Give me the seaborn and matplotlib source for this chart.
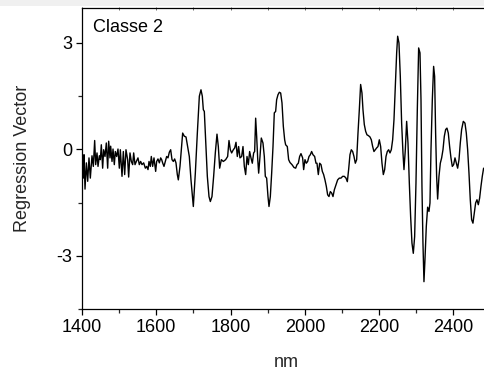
import matplotlib
matplotlib.use("Agg")
import matplotlib.pyplot as plt
from matplotlib.patches import Rectangle
from matplotlib.ticker import MultipleLocator
import seaborn as sns
import pandas as pd

# Regression vector for class 2 across the NIR range (nm)
wavelength_nm = [
    1400.0, 1403.6, 1405.4, 1408.1, 1411.7, 1415.3, 1418.8, 1422.4, 1426.9, 1430.5,
    1434.1, 1436.8, 1440.4, 1443.1, 1446.7, 1449.4, 1452.0, 1455.6, 1458.3, 1461.9,
    1465.5, 1469.1, 1471.8, 1475.4, 1477.2, 1480.8, 1483.5, 1487.0, 1489.7, 1493.3,
    1496.9, 1500.5, 1503.2, 1507.7, 1511.3, 1514.9, 1518.4, 1522.9, 1525.6, 1529.2,
    1532.8, 1536.4, 1539.1, 1542.7, 1546.3, 1550.7, 1554.3, 1557.9, 1561.5, 1566.0,
    1570.5, 1574.1, 1577.7, 1580.4, 1583.9, 1586.6, 1590.2, 1593.8, 1598.3, 1601.0,
    1604.6, 1608.2, 1611.8, 1614.5, 1617.1, 1620.7, 1624.3, 1627.9, 1631.5, 1635.1,
    1638.7, 1642.3, 1645.9, 1649.4, 1653.0, 1656.6, 1659.3, 1663.8,
    1671.0, 1675.5, 1680.0, 1684.4, 1688.9, 1693.4, 1699.7, 1705.1, 1710.5, 1715.9,
    1720.3, 1723.9, 1726.6, 1729.3, 1732.9, 1737.4, 1741.9, 1745.5, 1749.9, 1754.4,
    1758.9, 1763.4, 1767.0, 1770.6, 1775.1, 1780.5, 1786.7, 1792.1, 1795.7, 1799.3,
    1802.9, 1807.4, 1811.0, 1814.6, 1818.1, 1821.7, 1825.3, 1829.8, 1833.4, 1837.0,
    1840.6, 1844.2, 1847.8, 1851.3, 1854.9, 1858.5, 1862.1, 1864.8, 1867.5, 1870.2,
    1872.9, 1875.6, 1879.2, 1882.7, 1887.2, 1890.8, 1893.5, 1897.1, 1900.7, 1903.4,
    1907.0, 1910.6, 1914.2, 1917.7, 1921.3, 1924.0, 1927.6, 1931.2, 1934.8, 1938.4,
    1942.0, 1945.6, 1948.2, 1952.7, 1956.3, 1959.9, 1965.3, 1970.7, 1975.2, 1978.8,
    1982.4, 1985.9, 1989.5, 1994.0, 1996.7, 2000.3, 2003.9, 2007.5, 2011.1, 2014.7,
    2018.2, 2021.8, 2026.3, 2029.9, 2032.6, 2036.2, 2039.8, 2043.4, 2047.0, 2050.5,
    2054.1, 2057.7, 2061.3, 2064.9, 2068.5, 2072.1, 2075.7, 2079.3, 2083.7, 2088.2,
    2092.7, 2097.2, 2101.7, 2106.2, 2110.7, 2114.3, 2117.8, 2121.4, 2125.0, 2128.6,
    2132.2, 2135.8, 2139.4, 2143.0, 2146.6, 2150.1, 2153.7, 2156.4, 2160.0, 2163.6,
    2167.2, 2170.8, 2175.3, 2178.9, 2182.5, 2186.0, 2189.6, 2193.2, 2196.8, 2200.4,
    2204.0, 2207.6, 2211.2, 2214.8, 2218.4, 2221.9, 2225.5, 2229.1, 2232.7, 2236.3,
    2239.9, 2243.5, 2247.1, 2249.8, 2253.3, 2256.9, 2260.5, 2264.1, 2266.8, 2270.4,
    2274.0, 2277.6, 2281.2, 2284.7, 2288.3, 2291.9, 2295.5, 2299.1, 2302.7, 2306.3,
    2309.9, 2312.6, 2315.2, 2317.9, 2320.6, 2323.3, 2326.9, 2330.5, 2334.1, 2336.8,
    2339.5, 2343.1, 2346.6, 2349.3, 2352.0, 2354.7, 2357.4, 2361.0, 2364.6, 2368.2,
    2371.8, 2375.4, 2379.0, 2382.5, 2386.1, 2389.7, 2393.3, 2396.9, 2400.5, 2404.1,
    2407.7, 2411.3, 2414.9, 2418.4, 2422.0, 2426.5, 2431.0, 2434.6, 2438.2, 2441.8,
    2445.3, 2448.9, 2452.5, 2456.1, 2459.7, 2463.3, 2466.9, 2470.5, 2474.1, 2477.6,
    2481.2,
]

regression_vector = [
    -0.10, -0.81, -0.15, -1.12, -0.38, -0.90, -0.24, -0.81, -0.18, -0.48,
    0.25, -0.43, -0.10, -0.48, -0.18, -0.29, 0.13, -0.53, -0.01, -0.20,
    0.18, -0.53, 0.23, -0.24, 0.09, -0.34, 0.01, -0.43, -0.06, -0.20,
    0.01, -0.53, -0.01, -0.76, -0.06, -0.71, -0.01, -0.29, -0.78, -0.10,
    -0.34, -0.43, -0.10, -0.43, -0.34, -0.24, -0.43, -0.34, -0.43, -0.38,
    -0.53, -0.48, -0.57, -0.34, -0.48, -0.20, -0.48, -0.24, -0.62, -0.34,
    -0.27, -0.38, -0.24, -0.29, -0.38, -0.48, -0.34, -0.20, -0.24, -0.08,
    -0.01, -0.29, -0.34, -0.27, -0.38, -0.71, -0.86, -0.48,
    0.46, 0.37, 0.35, 0.08, -0.20, -0.86, -1.61, -0.67, 0.46, 1.50,
    1.68, 1.50, 1.12, 1.07, 0.27, -0.76, -1.33, -1.47, -1.33, -0.76,
    -0.10, 0.43, 0.08, -0.53, -0.29, -0.34, -0.29, -0.20, 0.25, -0.01,
    -0.10, -0.01, 0.04, 0.20, -0.20, 0.08, -0.24, -0.20, 0.08, -0.48,
    -0.71, -0.20, -0.43, -0.06, -0.24, -0.39, -0.10, -0.06, 0.88, 0.37,
    -0.24, -0.67, -0.20, 0.32, 0.18, -0.20, -0.76, -0.81, -1.33, -1.61,
    -1.33, -0.67, 0.08, 1.03, 1.07, 1.40, 1.54, 1.61, 1.59, 1.31,
    0.65, 0.27, 0.13, 0.08, -0.29, -0.37, -0.43, -0.51, -0.53, -0.43,
    -0.39, -0.20, -0.12, -0.24, -0.57, -0.29, -0.39, -0.34, -0.20, -0.15,
    -0.06, -0.15, -0.20, -0.39, -0.39, -0.71, -0.39, -0.43, -0.62, -0.71,
    -0.86, -1.04, -1.28, -1.33, -1.19, -1.23, -1.33, -1.14, -1.00, -0.86,
    -0.81, -0.81, -0.76, -0.76, -0.81, -0.91, -0.57, -0.15, -0.01, -0.06,
    -0.20, -0.39, -0.29, 0.46, 1.12, 1.83, 1.59, 1.12, 0.70, 0.51,
    0.41, 0.39, 0.35, 0.27, 0.08, -0.06, -0.01, 0.04, 0.08, 0.27,
    0.08, -0.39, -0.71, -0.57, -0.20, -0.06, -0.01, -0.10, -0.01, 0.27,
    0.84, 1.78, 2.72, 3.19, 3.00, 2.06, 0.74, -0.10, -0.57, -0.01,
    0.79, 0.18, -0.95, -1.89, -2.64, -2.93, -2.46, -0.95, 1.12, 2.86,
    2.72, 1.40, -1.04, -2.64, -3.73, -3.11, -2.17, -1.63, -1.75, -1.51,
    -0.01, 1.40, 2.34, 2.06, 0.46, -0.76, -1.40, -0.76, -0.39, -0.24,
    -0.01, 0.37, 0.56, 0.60, 0.46, 0.08, -0.24, -0.48, -0.43, -0.24,
    -0.39, -0.53, -0.29, 0.18, 0.56, 0.79, 0.74, 0.46, -0.01, -0.67,
    -1.42, -1.98, -2.08, -1.80, -1.51, -1.42, -1.56, -1.37, -1.04, -0.76,
    -0.53,
]

x_ticks = [1400, 1600, 1800, 2000, 2200, 2400]
y_ticks = [-3, 0, 3]
panel_title = "Classe 2"

df = pd.DataFrame({"nm": wavelength_nm, "rv": regression_vector})

sns.set_theme(style="ticks")
plt.rcParams["font.family"] = ["Liberation Sans", "DejaVu Sans"]

W, H = 484, 372
fig = plt.figure(figsize=(W / 100, H / 100), dpi=100)
fig.patch.set_facecolor("white")
fig.patches.append(Rectangle((0, 1 - 6 / H), 1, 6 / H, transform=fig.transFigure,
                             facecolor="#f0f0f0", edgecolor="none", zorder=-5))

left_px, right_px, top_px, bottom_px = 82, 490.6, 7.5, 309
ax = fig.add_axes([left_px / W, 1 - bottom_px / H,
                   (right_px - left_px) / W, (bottom_px - top_px) / H])

sns.lineplot(data=df, x="nm", y="rv", ax=ax, color="black", linewidth=1.0,
             sort=False, estimator=None)

ax.set_xlim(1400, 2500)
ax.set_ylim(-4.5, 4.0)
ax.set_xticks(x_ticks)
ax.set_yticks(y_ticks)
ax.set_yticklabels([str(v) for v in y_ticks])
ax.xaxis.set_minor_locator(MultipleLocator(100))
ax.yaxis.set_minor_locator(MultipleLocator(1.5))

ax.set_xlabel("nm", fontsize=13, labelpad=13)
ax.set_ylabel("Regression Vector", fontsize=13, labelpad=18)

for side in ["left", "bottom", "top", "right"]:
    ax.spines[side].set_visible(True)
    ax.spines[side].set_linewidth(0.9)
    ax.spines[side].set_color("black")

ax.tick_params(axis="both", which="major", direction="out", length=4, width=0.9,
               labelsize=13, colors="black", pad=3)
ax.tick_params(axis="both", which="minor", direction="out", length=3, width=0.9)
ax.tick_params(axis="x", which="both", top=False)

top = ax.secondary_xaxis("top")
top.set_xticks(x_ticks)
top.xaxis.set_minor_locator(MultipleLocator(100))
top.tick_params(which="both", direction="in", length=2, width=0.6, labeltop=False,
                colors="#555555")
top.spines["top"].set_visible(False)

ax.text(0.027, 0.92, panel_title, transform=ax.transAxes, fontsize=13,
        ha="left", va="baseline", color="black")

fig.savefig("out.png", dpi=100)
